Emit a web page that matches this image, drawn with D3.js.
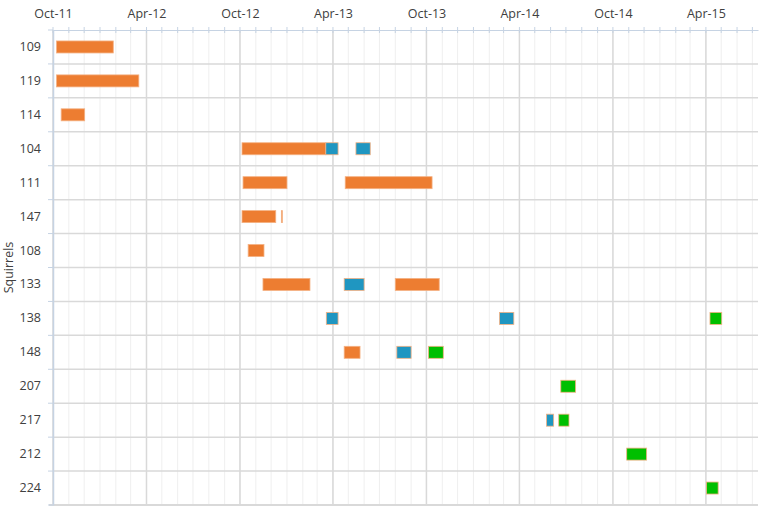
<!DOCTYPE html>
<html>
<head>
<meta charset="utf-8">
<script src="https://cdn.jsdelivr.net/npm/d3@7"></script>
<style>
  body { margin: 0; background: #fff; }
  svg { display: block; font-family: "Open Sans", "Noto Sans", sans-serif; }
</style>
</head>
<body>
<svg></svg>
<script>
let w = 765;
let h = 510;

// Data
const squirrels = ['109', '119', '114', '104', '111', '147', '108', '133', '138', '148', '207', '217', '212', '224'];

const segSquirrel = ['109', '119', '114', '104', '104', '104', '111', '111', '147', '147', '108', '133', '133', '133',
  '138', '138', '138', '148', '148', '148', '207', '217', '217', '212', '224'];
const segStart = ['2011-10-08', '2011-10-08', '2011-10-17', '2012-10-05', '2013-03-18', '2013-05-16', '2012-10-07', '2013-04-25',
  '2012-10-05', '2012-12-21', '2012-10-17', '2012-11-15', '2013-04-23', '2013-08-01',
  '2013-03-19', '2014-02-21', '2015-04-09', '2013-04-23', '2013-08-04', '2013-10-05', '2014-06-21', '2014-05-24', '2014-06-17',
  '2014-10-28', '2015-04-02'];
const segEnd = ['2012-01-27', '2012-03-17', '2011-12-02', '2013-03-18', '2013-04-11', '2013-06-13', '2013-01-01', '2013-10-12',
  '2012-12-10', '2012-12-22', '2012-11-17', '2013-02-15', '2013-06-01', '2013-10-26',
  '2013-04-11', '2014-03-21', '2015-05-02', '2013-05-24', '2013-09-01', '2013-11-03', '2014-07-20', '2014-06-07', '2014-07-07',
  '2014-12-06', '2015-04-25'];
const segStatus = ['a', 'a', 'a', 'a', 'b', 'b', 'a', 'a', 'a', 'a', 'a', 'a', 'b', 'a',
  'b', 'b', 'c', 'a', 'b', 'c', 'c', 'b', 'c', 'c', 'c'];

const dateRange = ['2011-10-01', '2015-07-12'];

const parse = d3.timeParse('%Y-%m-%d');
const segments = segSquirrel.map((s, i) => ({
  squirrel: s, start: parse(segStart[i]), end: parse(segEnd[i]), status: segStatus[i]
}));

const colors = { a: '#ED7D31', b: '#1F96C1', c: '#00BF00' };

const svg = d3.select('svg')
  .attr('width', w)
  .attr('height', h);

// Scales
const pLeft = 53, pRight = 758, pTop = 30, pBottom = 505;

const xScale = d3.scaleTime()
  .domain(dateRange.map(parse))
  .range([pLeft, pRight]);

const yScale = d3.scaleBand()
  .domain(squirrels)
  .range([pTop, pBottom]);

const months = d3.timeMonth.range(parse(dateRange[0]), parse(dateRange[1]));
const majors = months.filter(d => (d.getMonth() % 6) === 3);

// Grid
svg.append('g')
  .selectAll('line')
  .data(months)
  .enter()
  .append('line')
  .attr('x1', d => xScale(d)).attr('x2', d => xScale(d))
  .attr('y1', pTop).attr('y2', pBottom)
  .attr('stroke', '#efefef')
  .attr('stroke-width', 1);

svg.append('g')
  .selectAll('line')
  .data(majors)
  .enter()
  .append('line')
  .attr('x1', d => xScale(d)).attr('x2', d => xScale(d))
  .attr('y1', pTop).attr('y2', pBottom)
  .attr('stroke', '#d9d9d9')
  .attr('stroke-width', 1.5);

svg.append('g')
  .selectAll('line')
  .data(squirrels.slice(1))
  .enter()
  .append('line')
  .attr('x1', pLeft).attr('x2', pRight)
  .attr('y1', d => yScale(d)).attr('y2', d => yScale(d))
  .attr('stroke', '#d9d9d9')
  .attr('stroke-width', 1.5);

svg.append('line')
  .attr('x1', pLeft - 4).attr('x2', pRight)
  .attr('y1', pBottom).attr('y2', pBottom)
  .attr('stroke', '#d9d9d9')
  .attr('stroke-width', 2);

// Bars
const barH = 12;
svg.append('g')
  .selectAll('rect')
  .data(segments)
  .enter()
  .append('rect')
  .attr('x', d => xScale(d.start))
  .attr('width', d => Math.max(1, xScale(d.end) - xScale(d.start)))
  .attr('y', d => yScale(d.squirrel) + (yScale.bandwidth() - barH) / 2)
  .attr('height', barH)
  .attr('fill', d => colors[d.status])
  .attr('stroke', '#F4B183')
  .attr('stroke-width', 0.8);

// Axes
const xAxis = d3.axisTop(xScale)
  .tickValues(majors)
  .tickFormat(d3.timeFormat('%b-%y'))
  .tickSize(0)
  .tickPadding(12);

const gx = svg.append('g')
  .attr('transform', 'translate(0,' + pTop + ')')
  .call(xAxis)
  .attr('font-size', '12.5px');
gx.select('.domain').attr('stroke', '#c6d3e3');
gx.selectAll('text').attr('fill', '#404040').attr('font-family', '"Open Sans", sans-serif');

svg.append('g')
  .selectAll('line')
  .data(months)
  .enter()
  .append('line')
  .attr('x1', d => xScale(d)).attr('x2', d => xScale(d))
  .attr('y1', pTop - 3).attr('y2', pTop + 3)
  .attr('stroke', '#c6d3e3');

const yAxis = d3.axisLeft(yScale)
  .tickSize(0)
  .tickPadding(12);

const gy = svg.append('g')
  .attr('transform', 'translate(' + pLeft + ',0)')
  .call(yAxis)
  .attr('font-size', '12.5px');
gy.select('.domain').attr('stroke', '#c6d3e3').attr('stroke-width', 1.5);
gy.selectAll('text').attr('fill', '#404040').attr('font-family', '"Open Sans", sans-serif');

svg.append('g')
  .selectAll('line')
  .data(squirrels.concat(['end']))
  .enter()
  .append('line')
  .attr('x1', pLeft - 5).attr('x2', pLeft)
  .attr('y1', d => d === 'end' ? pBottom : yScale(d))
  .attr('y2', d => d === 'end' ? pBottom : yScale(d))
  .attr('stroke', '#c6d3e3');

svg.append('text')
  .attr('transform', 'translate(13,' + ((pTop + pBottom) / 2) + ') rotate(-90)')
  .attr('text-anchor', 'middle')
  .attr('font-size', '12.5px')
  .attr('fill', '#404040')
  .text('Squirrels');
</script>
</body>
</html>
